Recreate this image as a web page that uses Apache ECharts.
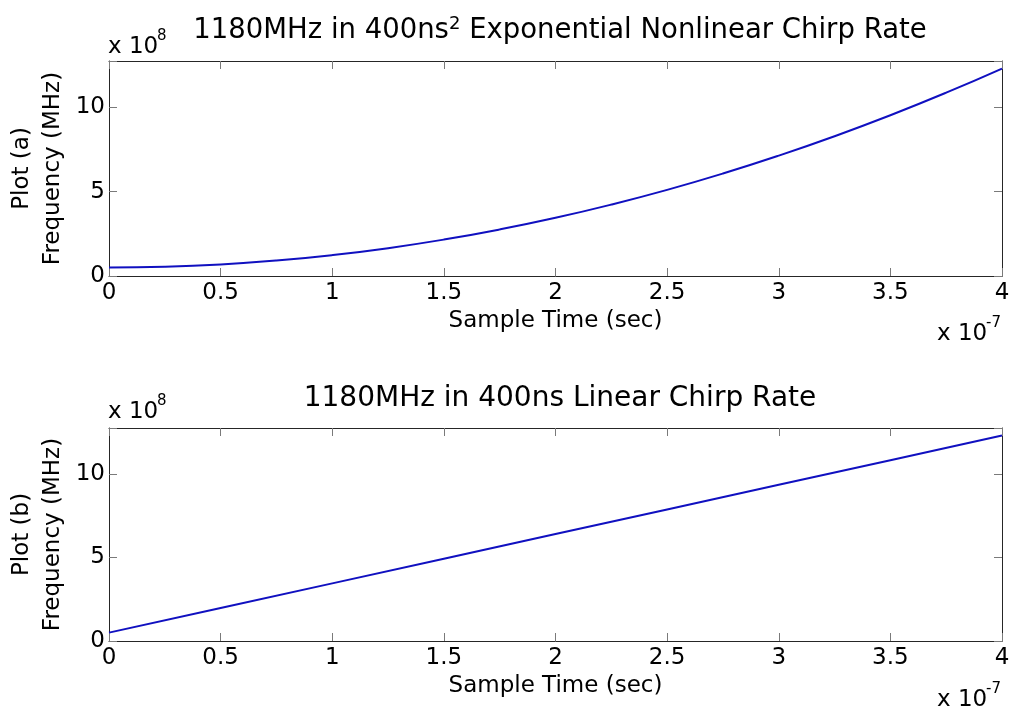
<!DOCTYPE html>
<html>
<head>
<meta charset="utf-8">
<script src="https://cdn.jsdelivr.net/npm/echarts@6/dist/echarts.min.js"></script>
<style>
html,body{margin:0;padding:0;background:#fff;}
#chart{width:1012px;height:715px;}
</style>
</head>
<body>
<div id="chart"></div>
<script>
// Sample time in units of 1e-7 s
const timeA = [0, 0.25, 0.5, 0.75, 1, 1.25, 1.5, 1.75, 2, 2.25, 2.5, 2.75, 3, 3.25, 3.5, 3.75, 4];
// Frequency in units of 1e8 Hz (plot a: exponential / nonlinear chirp)
const freqA = [0.5, 0.546, 0.684, 0.915, 1.238, 1.652, 2.159, 2.759, 3.45, 4.234, 5.109, 6.077, 7.138, 8.29, 9.534, 10.871, 12.3];
// plot b: linear chirp
const timeB = [0, 0.5, 1, 1.5, 2, 2.5, 3, 3.5, 4];
const freqB = [0.5, 1.975, 3.45, 4.925, 6.4, 7.875, 9.35, 10.825, 12.3];
const xTicks = ['0', '0.5', '1', '1.5', '2', '2.5', '3', '3.5', '4'];
const yTicks = ['0', '5', '10'];
const titleA = '1180MHz in 400ns{sup|2} Exponential Nonlinear Chirp Rate';
const titleB = '1180MHz in 400ns Linear Chirp Rate';
const yNameA = 'Plot (a)\nFrequency (MHz)';
const yNameB = 'Plot (b)\nFrequency (MHz)';
const xName = 'Sample Time (sec)';

const FONT = 'DejaVu Sans';
const TICK = 23;
const lineColor = '#1010c0';
const axisColor = '#262626';
const tickColor = '#7a7a7a';

function xAxes(gi) {
  return [
    {
      type: 'value', gridIndex: gi, position: 'bottom', min: 0, max: 4, interval: 0.5,
      name: xName, nameLocation: 'middle', nameGap: 34, nameMoveOverlap: false,
      nameTextStyle: {fontFamily: FONT, fontSize: TICK, color: '#000'},
      axisLine: {show: true, onZero: false, lineStyle: {color: axisColor, width: 1}},
      axisTick: {show: true, inside: true, length: 8, lineStyle: {color: tickColor}},
      axisLabel: {show: true, margin: 6, fontFamily: FONT, fontSize: TICK, color: '#000',
        formatter: v => { const s = xTicks.find(t => Math.abs(parseFloat(t) - v) < 1e-9); return s === undefined ? '' : s; }},
      splitLine: {show: false}
    },
    {
      type: 'value', gridIndex: gi, position: 'top', min: 0, max: 4, interval: 0.5,
      axisLine: {show: true, onZero: false, lineStyle: {color: axisColor, width: 1}},
      axisTick: {show: true, inside: true, length: 8, lineStyle: {color: tickColor}},
      axisLabel: {show: false}, splitLine: {show: false}
    }
  ];
}
function yAxes(gi, nm) {
  return [
    {
      type: 'value', gridIndex: gi, position: 'left', min: 0, max: 12.75, interval: 5,
      name: nm, nameLocation: 'middle', nameGap: 40, nameRotate: 90, nameMoveOverlap: false,
      nameTextStyle: {fontFamily: FONT, fontSize: TICK, color: '#000', lineHeight: 31},
      axisLine: {show: true, onZero: false, lineStyle: {color: axisColor, width: 1}},
      axisTick: {show: true, inside: true, length: 8, lineStyle: {color: tickColor}},
      axisLabel: {show: true, margin: 4, fontFamily: FONT, fontSize: TICK, color: '#000',
        formatter: v => { const s = yTicks.find(t => Math.abs(parseFloat(t) - v) < 1e-9); return s === undefined ? '' : s; }},
      splitLine: {show: false}
    },
    {
      type: 'value', gridIndex: gi, position: 'right', min: 0, max: 12.75, interval: 5,
      axisLine: {show: true, onZero: false, lineStyle: {color: axisColor, width: 1}},
      axisTick: {show: true, inside: true, length: 8, lineStyle: {color: tickColor}},
      axisLabel: {show: false}, splitLine: {show: false}
    }
  ];
}

function expText(x, base, main, sup) {
  return [
    {type: 'text', left: x, top: base - 19, silent: true,
      style: {text: main, font: TICK + 'px "' + FONT + '"', fill: '#000'}},
    {type: 'text', left: x + 49, top: base - 26, silent: true,
      style: {text: sup, font: '15px "' + FONT + '"', fill: '#000'}}
  ];
}

const chart = echarts.init(document.getElementById('chart'), null, {renderer: 'canvas'});
chart.setOption({
  backgroundColor: '#fff',
  animation: false,
  title: [
    {text: titleA, left: 555, textAlign: 'center', top: 10,
      textStyle: {fontFamily: FONT, fontSize: 27.5, fontWeight: 'normal', color: '#000', lineHeight: 32,
        rich: {sup: {fontFamily: FONT, fontSize: 18, verticalAlign: 'top', lineHeight: 18, color: '#000'}}}},
    {text: titleB, left: 555, textAlign: 'center', top: 378,
      textStyle: {fontFamily: FONT, fontSize: 28, fontWeight: 'normal', color: '#000', lineHeight: 32}}
  ],
  grid: [
    {left: 109, top: 61, width: 893, height: 215, containLabel: false, outerBoundsMode: 'none'},
    {left: 109, top: 428, width: 893, height: 213, containLabel: false, outerBoundsMode: 'none'}
  ],
  xAxis: [...xAxes(0), ...xAxes(1)],
  yAxis: [...yAxes(0, yNameA), ...yAxes(1, yNameB)],
  series: [
    {type: 'line', xAxisIndex: 0, yAxisIndex: 0, data: timeA.map((t, i) => [t, freqA[i]]),
      smooth: true, showSymbol: false, lineStyle: {color: lineColor, width: 2}},
    {type: 'line', xAxisIndex: 2, yAxisIndex: 2, data: timeB.map((t, i) => [t, freqB[i]]),
      showSymbol: false, lineStyle: {color: lineColor, width: 2}}
  ],
  graphic: [
    ...expText(108, 55, 'x 10', '8'),
    ...expText(937, 342, 'x 10', '-7'),
    ...expText(108, 420, 'x 10', '8'),
    ...expText(937, 708, 'x 10', '-7')
  ]
});
</script>
</body>
</html>
